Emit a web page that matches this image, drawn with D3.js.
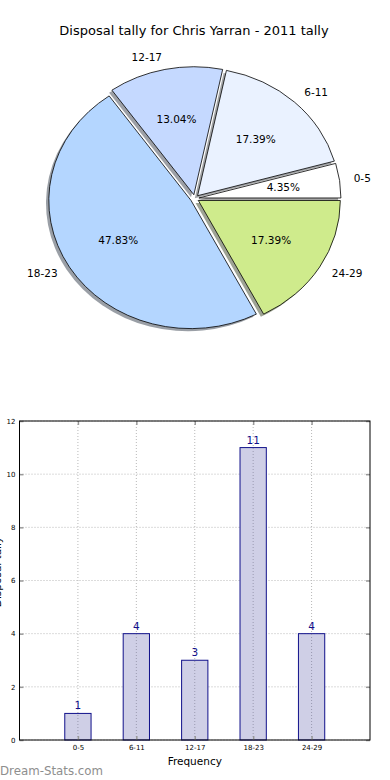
<!DOCTYPE html>
<html>
<head>
<meta charset="utf-8">
<script src="https://cdn.jsdelivr.net/npm/d3@7"></script>
<style>
  body { margin: 0; background: #fff; }
  svg { display: block; }
  text { font-family: "DejaVu Sans", sans-serif; }
</style>
</head>
<body>
<svg id="chart" width="390" height="780"></svg>
<script>
const categories = ["0-5", "6-11", "12-17", "18-23", "24-29"];
const tally = [1, 4, 3, 11, 4];
const sliceColors = ["#ffffff", "#eaf2ff", "#c5d9ff", "#b4d6ff", "#cfeb8c"];
const yTicks = [0, 2, 4, 6, 8, 10, 12];

const svg = d3.select("#chart");

// ---- pie (matplotlib style: starts at 3 o'clock, counterclockwise, elliptical) ----
const cx = 194.7, cy = 198.5, rx = 142, ry = 128, explode = 0.03;
const total = d3.sum(tally);

svg.append("text")
  .attr("x", 194)
  .attr("y", 35)
  .attr("text-anchor", "middle")
  .style("font-size", "13px")
  .text("Disposal tally for Chris Yarran - 2011 tally");

const pie = d3.pie().sort(null)
  .startAngle(Math.PI / 2)
  .endAngle(Math.PI / 2 - 2 * Math.PI);
const arcs = pie(tally);
const arcGen = d3.arc().innerRadius(0).outerRadius(1);

arcs.forEach((a, i) => {
  const mid = (a.startAngle + a.endAngle) / 2;
  a.ux = Math.sin(mid);
  a.uy = -Math.cos(mid);
  a.ox = cx + explode * rx * a.ux;
  a.oy = cy + explode * ry * a.uy;
  a.color = sliceColors[i];
});

// shadows under every wedge
svg.append("g").selectAll("path")
  .data(arcs)
  .enter()
  .append("path")
  .attr("transform", d => "translate(" + (d.ox - 2.8) + "," + (d.oy + 2.6) + ") scale(" + rx + "," + ry + ")")
  .attr("d", arcGen)
  .attr("fill", d => {
    const c = d3.rgb(d.color);
    return d3.rgb(c.r * 0.3, c.g * 0.3, c.b * 0.3);
  })
  .attr("fill-opacity", 0.5);

svg.append("g").selectAll("path")
  .data(arcs)
  .enter()
  .append("path")
  .attr("transform", d => "translate(" + d.ox + "," + d.oy + ") scale(" + rx + "," + ry + ")")
  .attr("d", arcGen)
  .attr("fill", d => d.color)
  .attr("stroke", "#000")
  .attr("stroke-width", 0.8)
  .attr("vector-effect", "non-scaling-stroke");

svg.append("g").selectAll("text")
  .data(arcs)
  .enter()
  .append("text")
  .attr("x", d => d.ox + 1.1 * rx * d.ux)
  .attr("y", d => d.oy + 1.1 * ry * d.uy)
  .attr("dy", "0.35em")
  .attr("text-anchor", d => d.ux > 0 ? "start" : "end")
  .style("font-size", "10.5px")
  .text((d, i) => categories[i]);

svg.append("g").selectAll("text")
  .data(arcs)
  .enter()
  .append("text")
  .attr("x", d => d.ox + 0.6 * rx * d.ux)
  .attr("y", d => d.oy + 0.6 * ry * d.uy)
  .attr("dy", "0.35em")
  .attr("text-anchor", "middle")
  .style("font-size", "10.5px")
  .text(d => (d.value / total * 100).toFixed(2) + "%");

// ---- bar chart ----
const x = d3.scaleLinear().domain([-1, 5]).range([19.5, 370]);
const y = d3.scaleLinear().domain([0, 12]).range([740, 421]);
const barW = x(0.45) - x(0);

const bars = svg.append("g");

// grid
bars.append("g").selectAll("line")
  .data(yTicks)
  .enter()
  .append("line")
  .attr("x1", x(-1)).attr("x2", x(5))
  .attr("y1", d => y(d)).attr("y2", d => y(d))
  .attr("stroke", "#b8b8b8")
  .attr("stroke-dasharray", "1,2");

bars.append("g").selectAll("line")
  .data(categories)
  .enter()
  .append("line")
  .attr("x1", (d, i) => x(i)).attr("x2", (d, i) => x(i))
  .attr("y1", y(0)).attr("y2", y(12))
  .attr("stroke", "#b8b8b8")
  .attr("stroke-dasharray", "1,2");

bars.append("g").selectAll("rect")
  .data(tally)
  .enter()
  .append("rect")
  .attr("x", (d, i) => x(i) - barW / 2)
  .attr("width", barW)
  .attr("y", d => y(d))
  .attr("height", d => y(0) - y(d))
  .attr("fill", "#cfcfe6")
  .attr("stroke", "#10108a")
  .attr("stroke-width", 1);

// grid shows through bars
bars.append("g").selectAll("line")
  .data(categories)
  .enter()
  .append("line")
  .attr("x1", (d, i) => x(i)).attr("x2", (d, i) => x(i))
  .attr("y1", y(0)).attr("y2", (d, i) => y(tally[i]))
  .attr("stroke", "#9a9ab0")
  .attr("stroke-dasharray", "1,2");

bars.append("g").selectAll("text")
  .data(tally)
  .enter()
  .append("text")
  .attr("x", (d, i) => x(i))
  .attr("y", d => y(d) - 4)
  .attr("text-anchor", "middle")
  .attr("fill", "#10108a")
  .style("font-size", "10.5px")
  .text(d => d);

const yAxis = bars.append("g")
  .attr("transform", "translate(" + x(-1) + ",0)")
  .call(d3.axisLeft(y).tickValues(yTicks).tickSize(-4).tickPadding(4));
const yAxisR = bars.append("g")
  .attr("transform", "translate(" + x(5) + ",0)")
  .call(d3.axisRight(y).tickValues(yTicks).tickSize(-4).tickFormat(""));
const xAxis = bars.append("g")
  .attr("transform", "translate(0," + y(0) + ")")
  .call(d3.axisBottom(x).tickValues(d3.range(categories.length)).tickSize(-4).tickPadding(5)
    .tickFormat(i => categories[i]));
const xAxisT = bars.append("g")
  .attr("transform", "translate(0," + y(12) + ")")
  .call(d3.axisTop(x).tickValues(d3.range(categories.length)).tickSize(-4).tickFormat(""));

[yAxis, yAxisR, xAxis, xAxisT].forEach(g => {
  g.select(".domain").remove();
  g.selectAll(".tick line").attr("stroke", "#999").attr("stroke-width", 1.5);
  g.selectAll(".tick text")
    .attr("fill", "#000")
    .style("font-family", "'DejaVu Sans', sans-serif")
    .style("font-size", "7px");
});

bars.append("rect")
  .attr("x", x(-1))
  .attr("y", y(12))
  .attr("width", x(5) - x(-1))
  .attr("height", y(0) - y(12))
  .attr("fill", "none")
  .attr("stroke", "#000")
  .attr("stroke-width", 1);

svg.append("text")
  .attr("x", (x(-1) + x(5)) / 2)
  .attr("y", 765)
  .attr("text-anchor", "middle")
  .style("font-size", "10.5px")
  .text("Frequency");

// y label sits mostly off the left edge, as in the original
svg.append("text")
  .attr("transform", "translate(0.5,572) rotate(-90)")
  .attr("text-anchor", "middle")
  .style("font-size", "10.5px")
  .text("Disposal tally");

svg.append("text")
  .attr("x", 0)
  .attr("y", 775)
  .attr("fill", "#8e8e8e")
  .style("font-size", "11.8px")
  .text("Dream-Stats.com");
</script>
</body>
</html>
